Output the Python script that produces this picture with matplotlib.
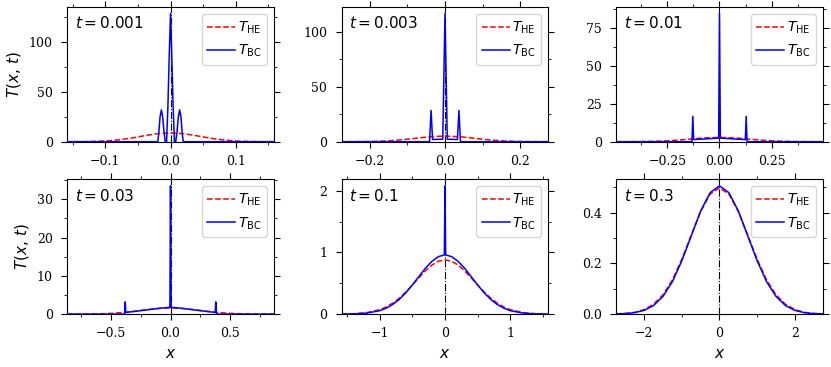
import matplotlib
matplotlib.use("Agg")
import matplotlib.pyplot as plt
from matplotlib.ticker import MultipleLocator

plt.rcParams['font.family'] = 'DejaVu Serif'
plt.rcParams['mathtext.fontset'] = 'dejavusans'

times = ["0.001", "0.003", "0.01", "0.03", "0.1", "0.3"]
xlims = [0.158, 0.274, 0.495, 0.866, 1.58, 2.74]
x_major = [0.1, 0.2, 0.25, 0.5, 1, 2]
y_major = [50, 50, 25, 10, 1, 0.2]

# t = 0.001
x_he_1 = [-0.16, -0.14, -0.12, -0.10, -0.08, -0.06, -0.04, -0.02, 0,
          0.02, 0.04, 0.06, 0.08, 0.10, 0.12, 0.14, 0.16]
T_he_1 = [0.02, 0.07, 0.24, 0.73, 1.80, 3.63, 5.98, 8.07, 8.92,
          8.07, 5.98, 3.63, 1.80, 0.73, 0.24, 0.07, 0.02]
x_bc_1 = [-0.16, -0.0195, -0.018, -0.016, -0.014, -0.012, -0.010, -0.008,
          -0.006, -0.004, -0.002, 0, 0.002, 0.004, 0.006, 0.008, 0.010,
          0.012, 0.014, 0.016, 0.018, 0.0195, 0.16]
T_bc_1 = [0, 0, 8, 25, 32, 25, 10, 0,
          0, 35, 85, 129, 85, 35, 0, 0, 10,
          25, 32, 25, 8, 0, 0]

# t = 0.003
x_he_2 = [-0.28, -0.24, -0.20, -0.16, -0.12, -0.08, -0.04, 0,
          0.04, 0.08, 0.12, 0.16, 0.20, 0.24, 0.28]
T_he_2 = [0.01, 0.04, 0.18, 0.61, 1.55, 3.02, 4.51, 5.15,
          4.51, 3.02, 1.55, 0.61, 0.18, 0.04, 0.01]
x_bc_2 = [-0.28, -0.041, -0.037, -0.033, -0.006, 0, 0.006, 0.033, 0.037, 0.041, 0.28]
T_bc_2 = [0, 0, 28.5, 2.0, 2.3, 117, 2.3, 2.0, 28.5, 0, 0]

# t = 0.01
x_he_3 = [-0.5, -0.45, -0.4, -0.35, -0.3, -0.25, -0.2, -0.15, -0.1, -0.05, 0,
          0.05, 0.1, 0.15, 0.2, 0.25, 0.3, 0.35, 0.4, 0.45, 0.5]
T_he_3 = [0.005, 0.018, 0.05, 0.13, 0.30, 0.59, 1.04, 1.61, 2.20, 2.65, 2.82,
          2.65, 2.20, 1.61, 1.04, 0.59, 0.30, 0.13, 0.05, 0.018, 0.005]
x_bc_3 = [-0.5, -0.132, -0.128, -0.124, -0.06, -0.004, 0, 0.004, 0.06, 0.124, 0.128, 0.132, 0.5]
T_bc_3 = [0, 0, 16.8, 1.4, 1.9, 2.4, 84.7, 2.4, 1.9, 1.4, 16.8, 0, 0]

# t = 0.03
x_he_4 = [-0.866, -0.8, -0.7, -0.6, -0.5, -0.4, -0.3, -0.2, -0.1, 0,
          0.1, 0.2, 0.3, 0.4, 0.5, 0.6, 0.7, 0.8, 0.866]
T_he_4 = [0.003, 0.008, 0.028, 0.081, 0.20, 0.43, 0.77, 1.17, 1.50, 1.63,
          1.50, 1.17, 0.77, 0.43, 0.20, 0.081, 0.028, 0.008, 0.003]
x_bc_4 = [-0.866, -0.385, -0.38, -0.375, -0.3, -0.2, -0.1, -0.005, 0,
          0.005, 0.1, 0.2, 0.3, 0.375, 0.38, 0.385, 0.866]
T_bc_4 = [0, 0, 3.2, 0.45, 0.72, 1.1, 1.5, 1.8, 33.5,
          1.8, 1.5, 1.1, 0.72, 0.45, 3.2, 0, 0]

# t = 0.1
x_he_5 = [-1.58, -1.4, -1.2, -1.0, -0.9, -0.8, -0.7, -0.6, -0.5, -0.4, -0.3, -0.2, -0.1, 0,
          0.1, 0.2, 0.3, 0.4, 0.5, 0.6, 0.7, 0.8, 0.9, 1.0, 1.2, 1.4, 1.58]
T_he_5 = [0.002, 0.0065, 0.024, 0.072, 0.116, 0.178, 0.259, 0.358, 0.471, 0.590, 0.703, 0.796, 0.858, 0.88,
          0.858, 0.796, 0.703, 0.590, 0.471, 0.358, 0.259, 0.178, 0.116, 0.072, 0.024, 0.0065, 0.002]
x_bc_5 = [-1.58, -1.4, -1.2, -1.0, -0.9, -0.8, -0.7, -0.6, -0.5, -0.4, -0.3, -0.2, -0.1, -0.01, 0,
          0.01, 0.1, 0.2, 0.3, 0.4, 0.5, 0.6, 0.7, 0.8, 0.9, 1.0, 1.2, 1.4, 1.58]
T_bc_5 = [0.001, 0.004, 0.016, 0.056, 0.097, 0.157, 0.239, 0.346, 0.473, 0.610, 0.744, 0.857, 0.933, 0.96, 2.08,
          0.96, 0.933, 0.857, 0.744, 0.610, 0.473, 0.346, 0.239, 0.157, 0.097, 0.056, 0.016, 0.004, 0.001]

# t = 0.3
x_he_6 = [-2.75, -2.5, -2.25, -2.0, -1.75, -1.5, -1.25, -1.0, -0.75, -0.5, -0.25, 0,
          0.25, 0.5, 0.75, 1.0, 1.25, 1.5, 1.75, 2.0, 2.25, 2.5, 2.75]
T_he_6 = [0.001, 0.003, 0.007, 0.018, 0.039, 0.076, 0.135, 0.216, 0.311, 0.404, 0.472, 0.497,
          0.472, 0.404, 0.311, 0.216, 0.135, 0.076, 0.039, 0.018, 0.007, 0.003, 0.001]
x_bc_6 = x_he_6
T_bc_6 = [0.001, 0.002, 0.006, 0.015, 0.034, 0.070, 0.128, 0.210, 0.308, 0.406, 0.478, 0.505,
          0.478, 0.406, 0.308, 0.210, 0.128, 0.070, 0.034, 0.015, 0.006, 0.002, 0.001]

he = [(x_he_1, T_he_1), (x_he_2, T_he_2), (x_he_3, T_he_3),
      (x_he_4, T_he_4), (x_he_5, T_he_5), (x_he_6, T_he_6)]
bc = [(x_bc_1, T_bc_1), (x_bc_2, T_bc_2), (x_bc_3, T_bc_3),
      (x_bc_4, T_bc_4), (x_bc_5, T_bc_5), (x_bc_6, T_bc_6)]

fig, axes = plt.subplots(2, 3, figsize=(8.31, 3.67), dpi=100)
fig.subplots_adjust(left=0.081, right=0.99, bottom=0.144, top=0.981,
                    wspace=0.33, hspace=0.28)

for i, ax in enumerate(axes.flat):
    ax.axvline(0, color='k', ls='-.', lw=0.8, zorder=1)
    ax.plot(*he[i], 'r--', lw=1.1, label=r'$T_{\rm HE}$', zorder=2)
    ax.plot(*bc[i], 'b-', lw=1.1, label=r'$T_{\rm BC}$', zorder=3)
    ax.set_xlim(-xlims[i], xlims[i])
    ax.set_ylim(bottom=0)
    ax.xaxis.set_major_locator(MultipleLocator(x_major[i]))
    ax.xaxis.set_minor_locator(MultipleLocator(x_major[i] / 2))
    ax.yaxis.set_major_locator(MultipleLocator(y_major[i]))
    ax.yaxis.set_minor_locator(MultipleLocator(y_major[i] / 2))
    ax.tick_params(which='both', direction='out', top=True, right=True, labelsize=9)
    ax.tick_params(which='major', length=4.5)
    ax.tick_params(which='minor', length=2.5)
    ax.tick_params(axis='y', which='major', pad=6)
    ax.tick_params(axis='x', which='major', pad=5)
    ax.text(0.035, 0.94, r'$t = %s$' % times[i], transform=ax.transAxes,
            ha='left', va='top', fontsize=11)
    ax.legend(loc='upper right', fontsize=10, handletextpad=0.2)
    if i % 3 == 0:
        ax.set_ylabel(r'$T(x,\,t)$', fontsize=11)
    if i >= 3:
        ax.set_xlabel(r'$x$', fontsize=11, labelpad=5)

fig.savefig('out.png')
